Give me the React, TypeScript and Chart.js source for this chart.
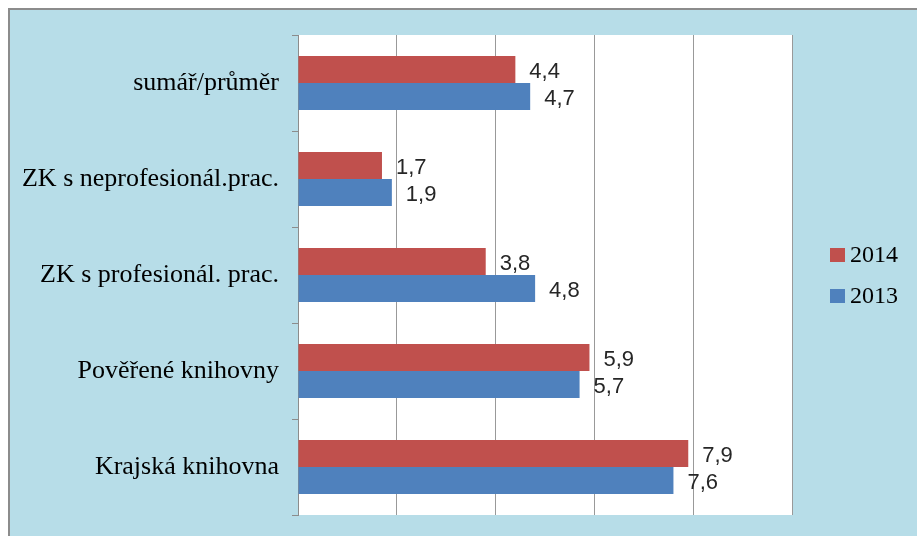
import React, { useEffect, useRef } from "react";
import { Chart, registerables } from "chart.js";

Chart.register(...registerables);

const categories = [
  "sumář/průměr",
  "ZK s neprofesionál.prac.",
  "ZK s profesionál. prac.",
  "Pověřené knihovny",
  "Krajská knihovna",
];
const seriesNames = ["2014", "2013"];
const values2014 = [4.4, 1.7, 3.8, 5.9, 7.9];
const values2013 = [4.7, 1.9, 4.8, 5.7, 7.6];
const colors = ["#c0504d", "#4f81bd"];

const plotBgPlugin = {
  id: "plotBg",
  beforeDraw(chart: any) {
    const { ctx, chartArea } = chart;
    ctx.save();
    ctx.fillStyle = "#ffffff";
    ctx.fillRect(
      chartArea.left,
      chartArea.top,
      chartArea.right - chartArea.left,
      chartArea.bottom - chartArea.top
    );
    ctx.restore();
  },
};

const dataLabelPlugin = {
  id: "dataLabels",
  afterDatasetsDraw(chart: any) {
    const ctx = chart.ctx;
    ctx.save();
    ctx.font = '22px "Liberation Sans"';
    ctx.fillStyle = "#262626";
    ctx.textBaseline = "middle";
    ctx.textAlign = "left";
    chart.data.datasets.forEach((ds: any, di: number) => {
      const meta = chart.getDatasetMeta(di);
      meta.data.forEach((bar: any, i: number) => {
        const v = ds.data[i];
        ctx.fillText(String(v).replace(".", ","), bar.x + 14, bar.y + 2);
      });
    });
    ctx.restore();
  },
};

const legendPlugin = {
  id: "customLegend",
  afterDraw(chart: any) {
    const ctx = chart.ctx;
    ctx.save();
    const x0 = 830;
    const rows = [255, 296];
    ctx.font = '24px "Liberation Serif"';
    ctx.textBaseline = "middle";
    ctx.textAlign = "left";
    seriesNames.forEach((name, i) => {
      const cy = rows[i];
      ctx.fillStyle = colors[i];
      ctx.fillRect(x0, cy - 7, 15, 14);
      ctx.fillStyle = "#000";
      ctx.fillText(name, x0 + 20, cy + 1);
    });
    ctx.restore();
  },
};

export default function App() {
  const ref = useRef<HTMLCanvasElement | null>(null);
  useEffect(() => {
    if (!ref.current) return;
    const chart = new Chart(ref.current, {
      type: "bar",
      data: {
        labels: categories,
        datasets: [
          {
            label: seriesNames[0],
            data: values2014,
            backgroundColor: colors[0],
            categoryPercentage: 0.5625,
            barPercentage: 1.0,
          },
          {
            label: seriesNames[1],
            data: values2013,
            backgroundColor: colors[1],
            categoryPercentage: 0.5625,
            barPercentage: 1.0,
          },
        ],
      },
      options: {
        indexAxis: "y",
        responsive: false,
        animation: false,
        layout: { padding: { top: 35, bottom: 21, right: 125, left: 0 } },
        plugins: {
          legend: { display: false },
          tooltip: { enabled: false },
          title: { display: false },
        },
        scales: {
          x: {
            min: 0,
            max: 10,
            ticks: { stepSize: 2, display: false },
            grid: { color: "#999999", drawTicks: false, lineWidth: 1 },
            border: { display: false },
            afterFit: (scale: any) => {
              scale.height = 0;
            },
          },
          y: {
            grid: {
              drawOnChartArea: false,
              drawTicks: true,
              tickLength: 6,
              color: "#8c8c8c",
              offset: true,
            },
            border: { display: true, color: "#8c8c8c" },
            ticks: {
              color: "#000",
              padding: 13,
              font: { family: '"Liberation Serif"', size: 26 },
            },
            afterFit: (scale: any) => {
              scale.width = 298;
              scale.paddingTop = 0;
              scale.paddingBottom = 0;
            },
          },
        },
      },
      plugins: [plotBgPlugin, dataLabelPlugin, legendPlugin],
    } as any);
    return () => chart.destroy();
  }, []);

  return (
    <div>
      <div
        style={{
          position: "fixed",
          left: 8,
          top: 8,
          width: 909,
          height: 528,
          boxSizing: "border-box",
          background: "#b7dde8",
          borderLeft: "2px solid #8c8c8c",
          borderTop: "2px solid #8c8c8c",
        }}
      />
      <canvas
        ref={ref}
        width={917}
        height={536}
        style={{ position: "fixed", left: 0, top: 0, width: 917, height: 536 }}
      />
    </div>
  );
}
